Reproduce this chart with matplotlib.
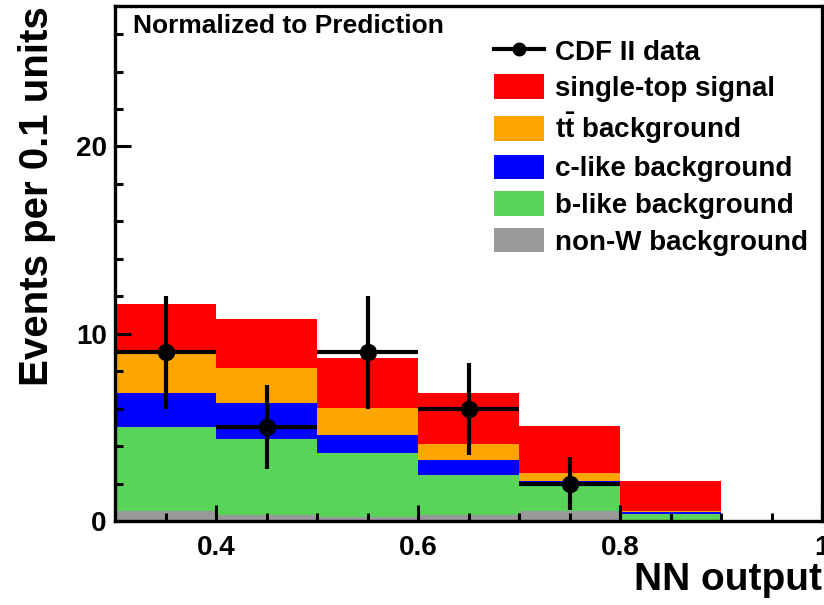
import numpy as np
import matplotlib
matplotlib.use("Agg")
import matplotlib.pyplot as plt
from matplotlib.lines import Line2D
from matplotlib.patches import Patch
from matplotlib.ticker import MultipleLocator

plt.rcParams['font.family'] = ['Liberation Sans', 'DejaVu Sans']
plt.rcParams['font.weight'] = 'bold'
plt.rcParams['axes.labelweight'] = 'bold'
plt.rcParams['mathtext.fontset'] = 'custom'
plt.rcParams['mathtext.rm'] = 'Liberation Sans:bold'
plt.rcParams['mathtext.bf'] = 'Liberation Sans:bold'

# NN output bins (left edges, width 0.1)
bin_edges = [0.3, 0.4, 0.5, 0.6, 0.7, 0.8, 0.9]

# stacked predictions, bottom to top
non_w = [0.51, 0.33, 0.24, 0.33, 0.56, 0.05]
b_like = [4.50, 4.06, 3.38, 2.10, 1.46, 0.33]
c_like = [1.81, 1.92, 0.98, 0.84, 0.14, 0.09]
ttbar = [2.23, 1.87, 1.42, 0.85, 0.41, 0.09]
signal = [2.55, 2.62, 2.69, 2.70, 2.48, 1.60]

# observed data
data_x = [0.35, 0.45, 0.55, 0.65, 0.75]
data_n = [9, 5, 9, 6, 2]

labels = ["non-W background", "b-like background", "c-like background",
          r"$\mathbf{t\bar{t}}$ background", "single-top signal"]
colors = ["#999999", "#58D558", "#0000FF", "#FFA500", "#FF0000"]

fig = plt.figure(figsize=(8.24, 6.05), dpi=100)
ax = fig.add_axes([115 / 824, 1 - 521 / 605, 707 / 824, 515 / 605])

left = np.array(bin_edges[:-1])
width = np.diff(bin_edges)
bottom = np.zeros(len(left))
handles = {}
for vals, lab, col in zip([non_w, b_like, c_like, ttbar, signal], labels, colors):
    ax.bar(left, vals, width=width, bottom=bottom, align='edge', color=col,
           linewidth=0)
    bottom += np.array(vals)
    handles[lab] = Patch(facecolor=col, edgecolor='none')

ax.errorbar(data_x, data_n, xerr=0.05, yerr=np.sqrt(data_n), fmt='o',
            color='black', markersize=11.5, elinewidth=3, capsize=0, zorder=5)

ax.set_xlim(0.3, 1.0)
ax.set_ylim(0, 27.5)
ax.xaxis.set_major_locator(MultipleLocator(0.2))
ax.xaxis.set_minor_locator(MultipleLocator(0.05))
ax.yaxis.set_major_locator(MultipleLocator(10))
ax.yaxis.set_minor_locator(MultipleLocator(2))
ax.tick_params(which='both', direction='in', width=2.2, labelsize=20)
ax.tick_params(which='major', length=11.5)
ax.tick_params(which='minor', length=5.8)
ax.tick_params(axis='x', pad=10)
ax.tick_params(axis='y', pad=6)
ax.set_xticks([0.4, 0.6, 0.8, 1.0])
ax.set_xticklabels(["0.4", "0.6", "0.8", "1"])
for s in ax.spines.values():
    s.set_linewidth(2.4)

ax.set_xlabel("NN output", loc='right', fontsize=28, labelpad=1)
ax.set_ylabel("Events per 0.1 units", loc='top', fontsize=29, labelpad=14)

ax.text(0.026, 0.985, "Normalized to Prediction", transform=ax.transAxes,
        fontsize=19, va='top', ha='left')

data_handle = Line2D([], [], color='black', marker='o', markersize=9, lw=3)
leg_handles = [data_handle] + [handles[l] for l in labels[::-1]]
leg_labels = ["CDF II data"] + labels[::-1]
ax.legend(leg_handles, leg_labels, loc='upper left',
          bbox_to_anchor=(0.52, 0.96), frameon=False, fontsize=20,
          handlelength=1.8, handleheight=1.0, handletextpad=0.4,
          labelspacing=0.31, borderaxespad=0)

fig.savefig("out.png", dpi=100)
